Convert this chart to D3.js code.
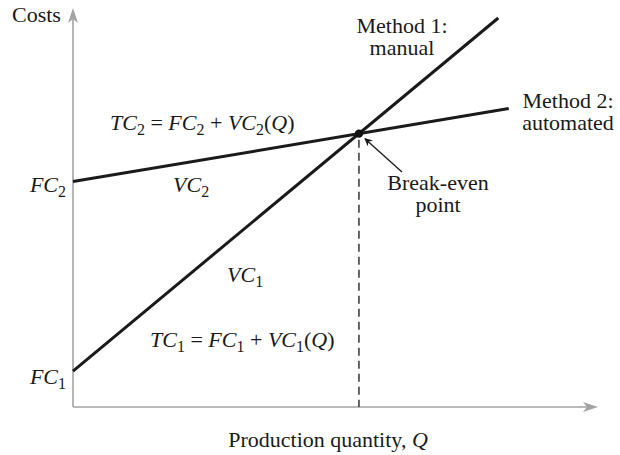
<!DOCTYPE html>
<html>
<head>
<meta charset="utf-8">
<script src="https://cdn.jsdelivr.net/npm/d3@7"></script>
<style>
  body { margin: 0; background: #fff; }
  svg text { font-family: "Liberation Serif", "DejaVu Serif", serif; font-size: 22px; fill: #1a1a1a; }
</style>
</head>
<body>
<svg width="620" height="455"></svg>
<script>
// line end points, Q and cost in arbitrary units (0..100)
var method1Q = [0, 81];
var method1Cost = [9, 97.5];
var method2Q = [0, 83];
var method2Cost = [56.5, 74.8];

var svg = d3.select("svg");

// x: production quantity, y: costs
var scX = d3.scaleLinear().domain([0, 100]).range([73, 598]);
var scY = d3.scaleLinear().domain([0, 100]).range([407, 8]);

// axes (grey, with arrow heads)
var axisCol = "#a3a3a3";
svg.append("line")
  .attr("x1", scX(0)).attr("y1", scY(0))
  .attr("x2", scX(0)).attr("y2", scY(100) + 8)
  .attr("stroke", axisCol).attr("stroke-width", 1.6);
svg.append("line")
  .attr("x1", scX(0)).attr("y1", scY(0))
  .attr("x2", scX(100) - 8).attr("y2", scY(0))
  .attr("stroke", axisCol).attr("stroke-width", 1.6);

var yt = [scX(0), scY(100)];
svg.append("path")
  .attr("d", "M" + yt[0] + "," + yt[1] + " L" + (yt[0] + 5) + "," + (yt[1] + 15) +
             " L" + yt[0] + "," + (yt[1] + 11) + " L" + (yt[0] - 5) + "," + (yt[1] + 15) + "Z")
  .attr("fill", axisCol);
var xt = [scX(100), scY(0)];
svg.append("path")
  .attr("d", "M" + xt[0] + "," + xt[1] + " L" + (xt[0] - 15) + "," + (xt[1] - 5) +
             " L" + (xt[0] - 11) + "," + xt[1] + " L" + (xt[0] - 15) + "," + (xt[1] + 5) + "Z")
  .attr("fill", axisCol);

// break-even point = intersection of the two cost lines
var s1 = (method1Cost[1] - method1Cost[0]) / (method1Q[1] - method1Q[0]);
var s2 = (method2Cost[1] - method2Cost[0]) / (method2Q[1] - method2Q[0]);
var beQ = (method2Cost[0] - method1Cost[0]) / (s1 - s2);
var beC = method1Cost[0] + s1 * beQ;

// dashed drop line
svg.append("line")
  .attr("x1", scX(beQ)).attr("y1", scY(beC) + 6)
  .attr("x2", scX(beQ)).attr("y2", scY(0))
  .attr("stroke", "#333").attr("stroke-width", 1.5)
  .attr("stroke-dasharray", "8,5");

var lineMaker = d3.line().x(d => scX(d[0])).y(d => scY(d[1]));
svg.append("path")
  .attr("d", lineMaker(d3.zip(method1Q, method1Cost)))
  .attr("fill", "none").attr("stroke", "#1a1a1a").attr("stroke-width", 3);
svg.append("path")
  .attr("d", lineMaker(d3.zip(method2Q, method2Cost)))
  .attr("fill", "none").attr("stroke", "#1a1a1a").attr("stroke-width", 3);

svg.append("circle")
  .attr("cx", scX(beQ)).attr("cy", scY(beC)).attr("r", 4.2)
  .attr("fill", "#111");

// arrow pointing at break-even
svg.append("defs").append("marker")
  .attr("id", "ah").attr("viewBox", "0 0 10 10")
  .attr("refX", 9).attr("refY", 5)
  .attr("markerWidth", 8).attr("markerHeight", 8)
  .attr("markerUnits", "userSpaceOnUse")
  .attr("orient", "auto")
  .append("path").attr("d", "M0,0 L10,5 L0,10 L3,5 Z").attr("fill", "#1a1a1a");
svg.append("line")
  .attr("x1", 402).attr("y1", 172)
  .attr("x2", scX(beQ) + 6).attr("y2", scY(beC) + 5)
  .attr("stroke", "#1a1a1a").attr("stroke-width", 1.3)
  .attr("marker-end", "url(#ah)");

// text helpers
function label(x, y, parts, anchor) {
  var t = svg.append("text").attr("x", x).attr("y", y)
    .attr("text-anchor", anchor || "start");
  parts.forEach(function(p) {
    var ts = t.append("tspan").text(p.t);
    if (p.i) ts.attr("font-style", "italic");
    if (p.sub) ts.attr("font-size", "16px").attr("dy", 5);
    if (p.up) ts.attr("dy", -5);
  });
  return t;
}

label(12, 22, [{t: "Costs"}]);
label(66, 192, [{t: "FC", i: 1}, {t: "2", sub: 1}], "end");
label(66, 384, [{t: "FC", i: 1}, {t: "1", sub: 1}], "end");

label(110, 130, [{t: "TC", i: 1}, {t: "2", sub: 1}, {t: " = ", up: 1}, {t: "FC", i: 1},
  {t: "2", sub: 1}, {t: " + ", up: 1}, {t: "VC", i: 1}, {t: "2", sub: 1}, {t: "(", up: 1},
  {t: "Q", i: 1}, {t: ")"}]);
label(173, 192, [{t: "VC", i: 1}, {t: "2", sub: 1}]);
label(227, 282, [{t: "VC", i: 1}, {t: "1", sub: 1}]);
label(150, 347, [{t: "TC", i: 1}, {t: "1", sub: 1}, {t: " = ", up: 1}, {t: "FC", i: 1},
  {t: "1", sub: 1}, {t: " + ", up: 1}, {t: "VC", i: 1}, {t: "1", sub: 1}, {t: "(", up: 1},
  {t: "Q", i: 1}, {t: ")"}]);

label(402, 33, [{t: "Method 1:"}], "middle");
label(402, 55, [{t: "manual"}], "middle");
label(568, 108, [{t: "Method 2:"}], "middle");
label(568, 130, [{t: "automated"}], "middle");
label(438, 190, [{t: "Break-even"}], "middle");
label(438, 212, [{t: "point"}], "middle");

label(328, 447, [{t: "Production quantity, "}, {t: "Q", i: 1}], "middle");
</script>
</body>
</html>
